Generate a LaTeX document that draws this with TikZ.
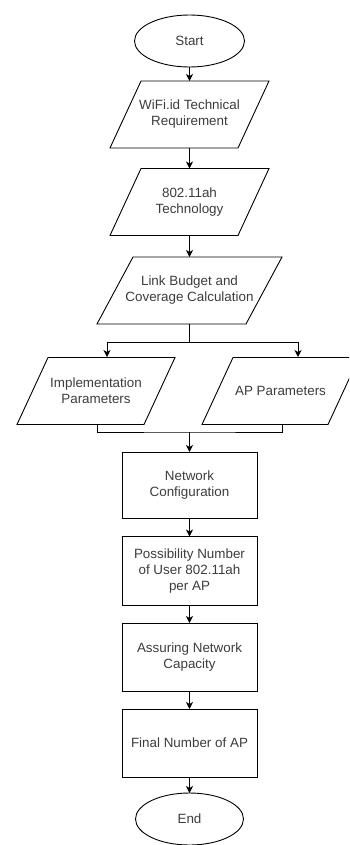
\documentclass[tikz,border=0pt]{standalone}
\usepackage{fontspec}
\setmainfont{Liberation Sans}
\usetikzlibrary{shapes.geometric,arrows.meta}
\definecolor{txt}{RGB}{60,60,60}
\newcommand\drawpara[2]{\draw[ln] ([xshift=#2]#1.north west) -- (#1.north east) -- ([xshift=-#2]#1.south east) -- (#1.south west) -- cycle;}
\begin{document}
\begin{tikzpicture}[x=1pt,y=-1pt,
  ln/.style={draw=black,line width=0.9pt},
  arr/.style={ln,-{Stealth[length=7pt,width=7pt,inset=2pt]}},
  lbl/.style={text=txt,align=center,font=\fontsize{13.4}{16}\selectfont,inner sep=0pt,outer sep=0pt},
  term/.style={lbl,ellipse,draw=black,line width=0.9pt,minimum width=110pt,minimum height=52pt},
  proc/.style={lbl,rectangle,draw=black,line width=0.9pt,minimum width=135pt},
  parabox/.style={lbl,rectangle,minimum height=67pt}
]
\useasboundingbox (0,0) rectangle (349,845);
\clip (0,0) rectangle (349,845);
% nodes
\node[term] (start) at (189.5,41) {Start};
\node[parabox,minimum width=159pt] (wifi) at (189.5,114.5) {WiFi.id Technical\\Requirement};
\node[parabox,minimum width=159pt] (tech) at (189.5,202) {802.11ah\\Technology};
\node[parabox,minimum width=185pt] (link) at (189.5,290.5) {Link Budget and\\Coverage Calculation};
\node[parabox,minimum width=158pt] (impl) at (96,391) {Implementation\\Parameters};
\node[parabox,minimum width=157pt] (ap) at (280.5,391) {AP Parameters};
\node[proc,minimum height=66pt] (net) at (189.5,485) {Network\\Configuration};
\node[proc,minimum height=69pt] (poss) at (189.5,571) {Possibility Number\\of User 802.11ah\\per AP};
\node[proc,minimum height=68pt] (assure) at (189.5,657) {Assuring Network\\Capacity};
\node[proc,minimum height=68pt] (final) at (189.5,743) {Final Number of AP};
\node[term,minimum width=108pt] (end) at (189.5,819) {End};
% parallelograms
\drawpara{wifi}{31pt}
\drawpara{tech}{31pt}
\drawpara{link}{36pt}
\drawpara{impl}{31pt}
\drawpara{ap}{31pt}
% connectors
\coordinate (sp) at (189.5,342);
\coordinate (ia) at (107,357);
\coordinate (aa) at (298,357);
\coordinate (mg) at (189.5,432);
\draw[arr] (start) -- (wifi);
\draw[arr] (wifi) -- (tech);
\draw[arr] (tech) -- (link);
\draw[ln] (link.south) -- (sp);
\draw[arr] (sp) -| (ia);
\draw[arr] (sp) -| (aa);
\draw[ln] ([xshift=1pt]impl.south) |- (mg) -| ([xshift=1.5pt]ap.south);
\draw[arr] (mg) -- (net);
\draw[arr] (net) -- (poss);
\draw[arr] (poss) -- (assure);
\draw[arr] (assure) -- (final);
\draw[arr] (final) -- (end);
\end{tikzpicture}
\end{document}
